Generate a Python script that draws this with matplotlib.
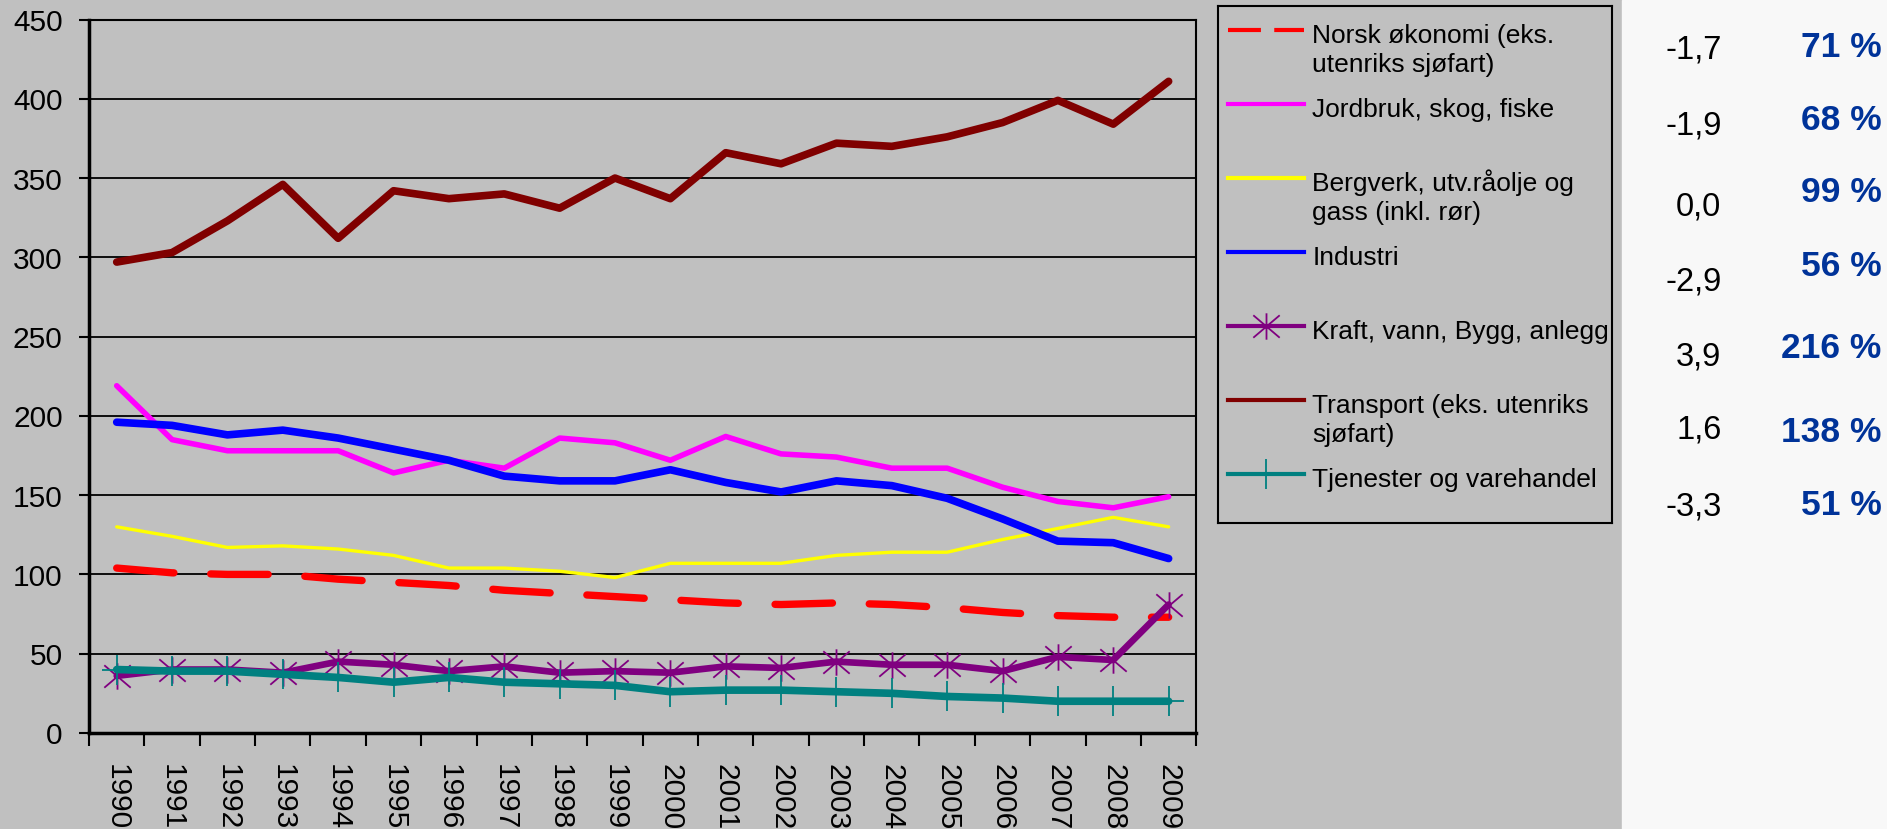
import numpy as np
import matplotlib.pyplot as plt
from matplotlib.path import Path
from matplotlib.patches import Rectangle

plt.rcParams['font.family'] = ['Liberation Sans', 'DejaVu Sans']

# === DATA ===
years = [str(y) for y in range(1990, 2010)]

norsk = [104, 101, 100, 100, 97, 95, 93, 90, 88, 86, 84, 82, 81, 82, 81, 79, 76, 74, 73, 73]
jordbruk = [219, 185, 178, 178, 178, 164, 172, 167, 186, 183, 172, 187, 176, 174, 167, 167, 155, 146, 142, 149]
bergverk = [130, 124, 117, 118, 116, 112, 104, 104, 102, 98, 107, 107, 107, 112, 114, 114, 122, 129, 136, 130]
industri = [196, 194, 188, 191, 186, 179, 172, 162, 159, 159, 166, 158, 152, 159, 156, 148, 135, 121, 120, 110]
kraft = [36, 40, 40, 38, 45, 43, 39, 42, 38, 39, 38, 42, 41, 45, 43, 43, 39, 48, 46, 81]
transport = [297, 303, 323, 346, 312, 342, 337, 340, 331, 350, 337, 366, 359, 372, 370, 376, 385, 399, 384, 411]
tjenester = [40, 39, 39, 37, 35, 32, 35, 32, 31, 30, 26, 27, 27, 26, 25, 23, 22, 20, 20, 20]

labels = ["Norsk økonomi (eks.\nutenriks sjøfart)",
          "Jordbruk, skog, fiske",
          "Bergverk, utv.råolje og\ngass (inkl. rør)",
          "Industri",
          "Kraft, vann, Bygg, anlegg",
          "Transport (eks. utenriks\nsjøfart)",
          "Tjenester og varehandel"]

change = ['-1,7', '-1,9', '0,0', '-2,9', '3,9', '1,6', '-3,3']
share = ['71 %', '68 %', '99 %', '56 %', '216 %', '138 %', '51 %']

# === STYLES ===
asterisk = Path([(0, 1), (0, -1), (-1, 0.85), (1, -0.85), (-1, -0.85), (1, 0.85)],
                [Path.MOVETO, Path.LINETO] * 3)

series = [
    (norsk, dict(color='#FF0000', lw=5.3, dashes=(7.8, 5.0), dash_capstyle='round')),
    (jordbruk, dict(color='#FF00FF', lw=4)),
    (bergverk, dict(color='#FFFF00', lw=2.4)),
    (industri, dict(color='#0000FF', lw=5.5)),
    (kraft, dict(color='#800080', lw=4.8, marker=asterisk, ms=19, mew=1.3)),
    (transport, dict(color='#800000', lw=5.5)),
    (tjenester, dict(color='#008080', lw=5.5, marker='+', ms=22, mew=1.3)),
]

W, H = 1887, 829
grey = '#C0C0C0'
fig = plt.figure(figsize=((W + 0.5) / 100, (H + 0.5) / 100), dpi=100, facecolor=grey)
fig.patches.append(Rectangle((1622 / W, 0), 1 - 1622 / W, 1, transform=fig.transFigure,
                             color='#F8F8F8', zorder=0))

ax = fig.add_axes([89 / W, 1 - 733 / H, (1196 - 89) / W, (733 - 20) / H])
ax.set_facecolor(grey)
x = np.arange(len(years))
for vals, st in series:
    ax.plot(x, vals, solid_joinstyle='round', solid_capstyle='round', **st)

ax.set_xlim(-0.5, len(years) - 0.5)
ax.set_ylim(0, 450)
ax.set_yticks(range(0, 451, 50))
ax.yaxis.grid(True, color='black', lw=1.3)
ax.set_axisbelow(True)

ax.set_xticks(x)
ax.set_xticklabels(years, rotation=270, va='top', ha='center')
ax.set_xticks(np.arange(-0.5, len(years), 1), minor=True)
ax.tick_params(axis='x', which='major', length=0, pad=22, labelsize=21.5)
ax.tick_params(axis='x', which='minor', length=9, width=1.5, direction='out')
ax.tick_params(axis='y', length=7, width=1.5, pad=12, labelsize=21.5)
for s in ['left', 'bottom']:
    ax.spines[s].set_linewidth(2.5)
for s in ['right', 'top']:
    ax.spines[s].set_linewidth(1.5)

# === LEGEND (drawn by hand, Excel style) ===
lax = fig.add_axes([1218 / W, 1 - 523 / H, (1612 - 1218) / W, (523 - 6) / H])
lax.set_facecolor(grey)
lax.set_xlim(1218, 1612)
lax.set_ylim(523, 6)
lax.set_xticks([])
lax.set_yticks([])
for s in lax.spines.values():
    s.set_linewidth(1.5)

for i, ((vals, st), lab) in enumerate(zip(series, labels)):
    hy = 30 + 74 * i
    hst = dict(st)
    hst['lw'] = 3
    if 'dashes' in hst:
        hst['dashes'] = (7.9, 3.2)
        hst['dash_capstyle'] = 'butt'
    lax.plot([1228, 1266, 1304], [hy, hy, hy], markevery=[1], **hst)
    for j, line in enumerate(lab.split('\n')):
        lax.text(1312, hy + 3 + 29 * j + 9.5, line, fontsize=19, va='baseline', ha='left')

# === RIGHT PANEL NUMBERS ===
change_base = [58, 134, 215, 290, 365, 438, 515]
share_base = [57, 130, 202, 276, 358, 442, 515]
for c, yb in zip(change, change_base):
    fig.text(1721 / W, 1 - yb / H, c, fontsize=23.5, ha='right', va='baseline', color='black')
for p, yb in zip(share, share_base):
    fig.text(1881 / W, 1 - yb / H, p, fontsize=25.5, ha='right', va='baseline',
             color='#003399', fontweight='bold')

fig.savefig('out.png', dpi=100, facecolor=fig.get_facecolor())
